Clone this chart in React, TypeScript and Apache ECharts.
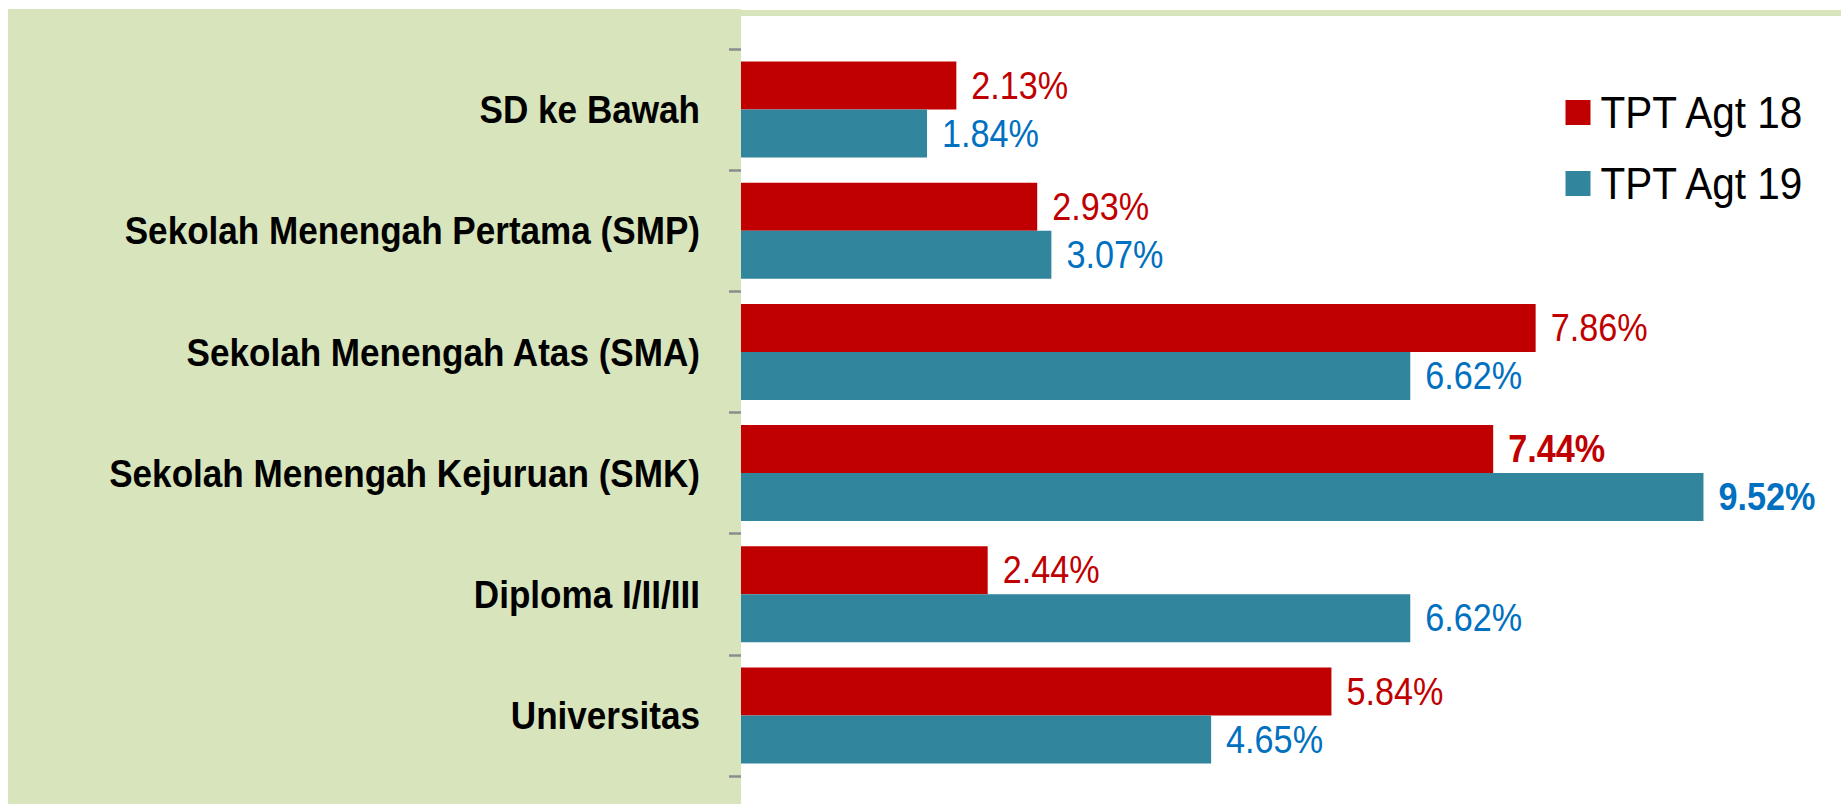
import React, { useEffect, useRef } from "react";
import * as echarts from "echarts";

const categories = [
  "SD ke Bawah",
  "Sekolah Menengah Pertama (SMP)",
  "Sekolah Menengah Atas (SMA)",
  "Sekolah Menengah Kejuruan (SMK)",
  "Diploma I/II/III",
  "Universitas",
];
const seriesNames = ["TPT Agt 18", "TPT Agt 19"];
const agt18 = [2.13, 2.93, 7.86, 7.44, 2.44, 5.84];
const agt19 = [1.84, 3.07, 6.62, 9.52, 6.62, 4.65];
const boldIndex = 3;

// horizontal squeeze applied to the whole chart (condensed-looking font)
const S = 0.9;
const W = 1841 / S;
const H = 804;
const hx = (x: number) => x / S;

const FONT = "'Liberation Sans', Arial, Helvetica, sans-serif";
const GREEN = "#D8E4BC";
const RED = "#C00000";
const TEAL = "#31859C";
const BLUE_TXT = "#0070C0";

export default function App() {
  const ref = useRef<HTMLDivElement>(null);
  useEffect(() => {
    if (!ref.current) return;
    const chart = echarts.init(ref.current, undefined, { renderer: "svg" });
    const mk = (vals: number[], color: string) =>
      vals.map((v, i) => ({
        value: v,
        label: i === boldIndex ? { fontWeight: "bold", color } : undefined,
      }));
    const gridLeft = hx(741);
    const gridWidth = hx(1011);
    chart.setOption({
      animation: false,
      textStyle: { fontFamily: FONT },
      graphic: [
        {
          type: "rect",
          z: -10,
          shape: { x: hx(8), y: 9, width: hx(741) - hx(8), height: H - 9 },
          style: { fill: GREEN },
          silent: true,
        },
        {
          type: "rect",
          z: -10,
          shape: { x: hx(738), y: 10, width: W - hx(738), height: 6 },
          style: { fill: GREEN },
          silent: true,
        },
      ],
      legend: {
        orient: "vertical",
        left: hx(1561),
        top: 85,
        itemWidth: hx(25),
        itemHeight: 25,
        itemGap: 26,
        icon: "rect",
        textStyle: {
          fontFamily: FONT,
          fontSize: 45,
          lineHeight: 44,
          color: "#000",
          padding: [0, 0, 0, hx(10) - 5],
        },
        data: seriesNames,
      },
      grid: {
        left: gridLeft,
        top: 49,
        width: gridWidth,
        height: 727,
        containLabel: false,
      },
      xAxis: {
        type: "value",
        min: 0,
        max: 10,
        show: false,
      },
      yAxis: {
        type: "category",
        data: categories,
        inverse: true,
        offset: hx(5),
        axisLine: { show: false },
        axisTick: {
          show: true,
          length: hx(12),
          lineStyle: { color: "#8c8c8c", width: 2.5 },
        },
        axisLabel: {
          margin: hx(36),
          fontFamily: FONT,
          fontSize: 39,
          fontWeight: "bold",
          color: "#000",
        },
        splitLine: { show: false },
      },
      series: [
        {
          name: seriesNames[0],
          type: "bar",
          data: mk(agt18, RED),
          barWidth: 48,
          barGap: "0%",
          itemStyle: { color: RED },
          label: {
            show: true,
            position: "right",
            distance: hx(15),
            fontFamily: FONT,
            fontSize: 38,
            color: RED,
            formatter: (p: any) => p.value.toFixed(2) + "%",
          },
        },
        {
          name: seriesNames[1],
          type: "bar",
          data: mk(agt19, BLUE_TXT),
          barWidth: 48,
          barGap: "0%",
          itemStyle: { color: TEAL },
          label: {
            show: true,
            position: "right",
            distance: hx(15),
            fontFamily: FONT,
            fontSize: 38,
            color: BLUE_TXT,
            formatter: (p: any) => p.value.toFixed(2) + "%",
          },
        },
      ],
    });
    return () => chart.dispose();
  }, []);
  return (
    <div
      ref={ref}
      style={{
        position: "fixed",
        left: 0,
        top: 0,
        width: W,
        height: H,
        transform: `scaleX(${S})`,
        transformOrigin: "0 0",
        background: "#fff",
      }}
    />
  );
}
